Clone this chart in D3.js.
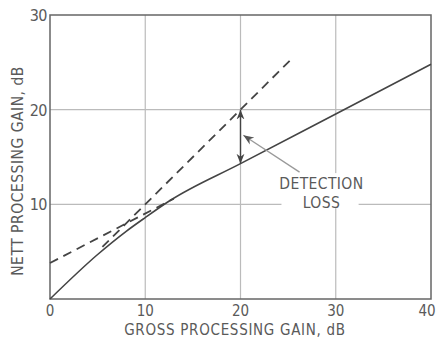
<!DOCTYPE html>
<html lang="en">
<head>
<meta charset="utf-8">
<title>Nett vs gross processing gain</title>
<script src="https://cdn.jsdelivr.net/npm/d3@7"></script>
<style>
  body { margin: 0; background: #fff; }
  text { font-family: "DejaVu Sans Condensed", "Liberation Sans Narrow", sans-serif; fill: #5a5a5a; }
</style>
</head>
<body>
<script>
// axis ticks
var xTicks = [0, 10, 20, 30, 40];
var yTicks = [0, 10, 20, 30];

// nett gain curve (solid)
var grossX = [0, 5, 8, 10, 12.6, 20, 30, 40];
var nettY  = [0, 4.7, 7.15, 8.6, 10.4, 14.3, 19.55, 24.8];

// ideal line nett = gross (dashed)
var idealX = [5.5, 25.2];
var idealY = [5.5, 25.2];

// asymptote extended to zero (dashed)
var asymX = [0, 13];
var asymY = [3.8, 10.6];

// detection loss marker at gross = 20
var lossX = 20, lossTop = 20, lossBottom = 14.3;

var w = 436, h = 340;
var x = d3.scaleLinear().domain([0, 40]).range([50, 431]);
var y = d3.scaleLinear().domain([0, 30]).range([299, 15]);

var svg = d3.select("body").append("svg")
  .attr("width", w).attr("height", h);

var defs = svg.append("defs");
defs.append("marker")
  .attr("id", "head")
  .attr("viewBox", "0 0 10 10")
  .attr("refX", 10).attr("refY", 5)
  .attr("markerWidth", 7).attr("markerHeight", 7)
  .attr("orient", "auto-start-reverse")
  .append("path").attr("d", "M0,1 L10,5 L0,9 L3,5 Z").attr("fill", "#444");
defs.append("marker")
  .attr("id", "headLight")
  .attr("viewBox", "0 0 10 10")
  .attr("refX", 10).attr("refY", 5)
  .attr("markerWidth", 8).attr("markerHeight", 8)
  .attr("orient", "auto")
  .append("path").attr("d", "M0,1 L10,5 L0,9 L3,5 Z").attr("fill", "#555");

// grid
svg.append("g").selectAll("line")
  .data(xTicks.filter(function(d){ return d > 0 && d < 40; }))
  .enter().append("line")
  .attr("x1", function(d){ return x(d); }).attr("x2", function(d){ return x(d); })
  .attr("y1", y(0)).attr("y2", y(30))
  .attr("stroke", "#bbb").attr("stroke-width", 1.2);
svg.append("g").selectAll("line")
  .data(yTicks.filter(function(d){ return d > 0 && d < 30; }))
  .enter().append("line")
  .attr("x1", x(0)).attr("x2", x(40))
  .attr("y1", function(d){ return y(d); }).attr("y2", function(d){ return y(d); })
  .attr("stroke", "#bbb").attr("stroke-width", 1.2);

// frame
svg.append("rect")
  .attr("x", x(0)).attr("y", y(30))
  .attr("width", x(40) - x(0)).attr("height", y(0) - y(30))
  .attr("fill", "none").attr("stroke", "#666").attr("stroke-width", 1.5);

// label background breaks the grid
svg.append("rect")
  .attr("x", x(24.3)).attr("y", y(13.3))
  .attr("width", x(32.4) - x(24.3)).attr("height", y(9.6) - y(13.3))
  .attr("fill", "#fff");

var line = d3.line()
  .x(function(d){ return x(d[0]); })
  .y(function(d){ return y(d[1]); });

svg.append("path")
  .attr("d", line(d3.zip(idealX, idealY)))
  .attr("fill", "none").attr("stroke", "#444").attr("stroke-width", 1.8)
  .attr("stroke-dasharray", "9,6");
svg.append("path")
  .attr("d", line(d3.zip(asymX, asymY)))
  .attr("fill", "none").attr("stroke", "#444").attr("stroke-width", 1.8)
  .attr("stroke-dasharray", "9,6");

svg.append("path")
  .attr("d", d3.line().curve(d3.curveMonotoneX)
    .x(function(d){ return x(d[0]); })
    .y(function(d){ return y(d[1]); })(d3.zip(grossX, nettY)))
  .attr("fill", "none").attr("stroke", "#444").attr("stroke-width", 1.6);

// detection loss double arrow
svg.append("line")
  .attr("x1", x(lossX)).attr("x2", x(lossX))
  .attr("y1", y(lossTop)).attr("y2", y(lossBottom))
  .attr("stroke", "#444").attr("stroke-width", 1.4)
  .attr("marker-start", "url(#head)").attr("marker-end", "url(#head)");

// leader from label
svg.append("line")
  .attr("x1", x(26.2)).attr("y1", y(13.4))
  .attr("x2", x(20.3)).attr("y2", y(17.3))
  .attr("stroke", "#999").attr("stroke-width", 1.3)
  .attr("marker-end", "url(#headLight)");

svg.append("text")
  .attr("x", x(28.5)).attr("y", y(11.6))
  .attr("text-anchor", "middle").attr("font-size", 15.5)
  .attr("letter-spacing", 0.4)
  .text("DETECTION");
svg.append("text")
  .attr("x", x(28.5)).attr("y", y(9.6))
  .attr("text-anchor", "middle").attr("font-size", 15.5)
  .attr("letter-spacing", 0.4)
  .text("LOSS");

// tick labels
svg.append("g").selectAll("text")
  .data(xTicks).enter().append("text")
  .attr("x", function(d){ return d === 40 ? x(d) - 4 : x(d); })
  .attr("y", 316)
  .attr("text-anchor", "middle").attr("font-size", 15)
  .text(function(d){ return d; });
svg.append("g").selectAll("text")
  .data(yTicks.filter(function(d){ return d > 0; })).enter().append("text")
  .attr("x", 47).attr("y", function(d){ return y(d) + 6; })
  .attr("text-anchor", "end").attr("font-size", 16)
  .attr("letter-spacing", -0.5)
  .text(function(d){ return d; });

// axis titles
svg.append("text")
  .attr("x", 235).attr("y", 335)
  .attr("text-anchor", "middle").attr("font-size", 15)
  .attr("letter-spacing", 0.7)
  .text("GROSS PROCESSING GAIN, dB");
svg.append("text")
  .attr("transform", "translate(23," + 171 + ") rotate(-90)")
  .attr("text-anchor", "middle").attr("font-size", 15.5)
  .attr("letter-spacing", 0.5)
  .text("NETT PROCESSING GAIN, dB");
</script>
</body>
</html>
